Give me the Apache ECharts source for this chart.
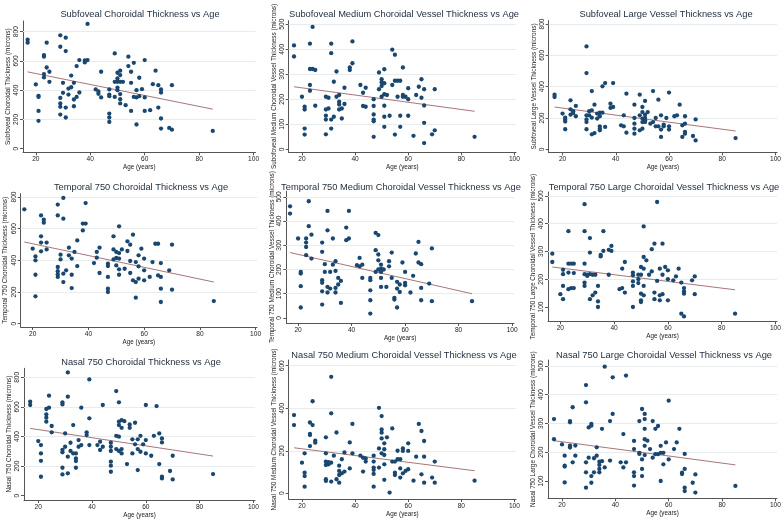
<!DOCTYPE html>
<html><head><meta charset="utf-8">
<script src="https://cdn.jsdelivr.net/npm/echarts@6/dist/echarts.min.js"></script>
<style>html,body{margin:0;padding:0;background:#fff}#c{width:784px;height:521px}</style>
</head><body><div id="c"></div>
<script>
// ---------- DATA ----------
const xTicks = [20, 40, 60, 80, 100];
const yTicks0to800 = [0, 200, 400, 600, 800];
const yTicks0to500 = [0, 100, 200, 300, 400, 500];
const yTicks100to500 = [100, 200, 300, 400, 500];
const yTicks0to600 = [0, 200, 400, 600];

const titles = [
  "Subfoveal Choroidal Thickness vs Age",
  "Subofoveal Medium Choroidal Vessel Thickness vs Age",
  "Subfoveal Large Vessel Thickness vs Age",
  "Temporal 750 Choroidal Thickness vs Age",
  "Temporal 750 Medium Choroidal Vessel Thickness vs Age",
  "Temporal 750 Large Choroidal Vessel Thickness vs Age",
  "Nasal 750 Choroidal Thickness vs Age",
  "Nasal 750 Medium Choroidal Vessel Thickness vs Age",
  "Nasal 750 Large Choroidal Vessel Thickness vs Age"
];
const yTitles = [
  "Subfoveal Choroidal Thickness (microns)",
  "Subofoveal Medium Choroidal Vessel Thickness (microns)",
  "Subfoveal Large Vessel Thickness (microns)",
  "Temporal 750 Choroidal Thickness (microns)",
  "Temporal 750 Medium Choroidal Vessel Thickness (microns)",
  "Temporal 750 Large Choroidal Vessel Thickness (microns)",
  "Nasal 750 Choroidal Thickness (microns)",
  "Nasal 750 Medium Choroidal Vessel Thickness (microns)",
  "Nasal 750 Large Choroidal Vessel Thickness (microns)"
];
const xTitle = "Age (years)";

const subfovealChoroidal = [[17,745],[17,725],[20,439],[21,361],[21,354],[21,258],[21,190],[23,640],[23,629],[23,510],[23,487],[24,725],[24,555],[25,526],[25,457],[29,775],[29,697],[29,347],[29,309],[29,286],[29,233],[30,450],[30,382],[31,759],[31,667],[31,281],[31,213],[32,411],[32,370],[33,500],[33,420],[34,450],[34,336],[34,290],[35,565],[35,354],[36,606],[36,384],[38,603],[38,590],[39,853],[39,606],[42,405],[43,391],[43,375],[44,526],[44,350],[47,405],[47,370],[47,359],[47,240],[47,213],[47,183],[49,651],[49,457],[49,354],[50,519],[50,480],[50,457],[50,418],[50,400],[51,533],[51,503],[51,457],[51,373],[51,338],[51,309],[52,457],[53,297],[54,629],[54,565],[55,526],[55,450],[55,258],[56,587],[56,354],[57,400],[57,350],[57,165],[58,485],[58,359],[59,407],[60,606],[60,350],[60,258],[62,263],[63,441],[64,533],[65,434],[65,281],[66,405],[66,384],[66,206],[66,137],[69,142],[70,434],[70,130],[85,121]];
const subfovealMedium = [[17,415],[17,371],[20,210],[21,170],[21,159],[21,83],[21,59],[23,422],[23,321],[23,257],[23,234],[24,489],[24,321],[25,317],[25,174],[29,210],[29,159],[29,134],[29,119],[29,60],[30,206],[30,163],[31,422],[31,384],[31,119],[31,83],[32,270],[32,130],[33,311],[33,210],[34,217],[34,190],[34,179],[34,159],[35,163],[35,123],[36,246],[36,181],[38,327],[38,317],[39,431],[39,344],[42,257],[43,226],[43,173],[44,246],[44,170],[47,200],[47,173],[47,139],[47,119],[47,112],[47,50],[49,307],[49,240],[50,280],[50,268],[50,253],[50,210],[51,320],[51,264],[51,220],[51,174],[51,130],[51,90],[52,217],[53,134],[54,398],[54,257],[55,378],[55,274],[55,59],[56,274],[56,210],[57,274],[57,134],[57,90],[58,327],[58,217],[58,210],[59,210],[60,244],[60,200],[60,134],[62,54],[63,217],[64,250],[65,280],[65,206],[66,240],[66,175],[66,106],[66,25],[69,60],[70,240],[70,76],[85,50]];
const subfovealLarge = [[17,349],[17,334],[20,228],[21,202],[21,189],[21,177],[21,128],[23,313],[23,255],[23,221],[24,243],[24,232],[25,277],[25,211],[29,657],[29,487],[29,217],[29,191],[29,174],[29,128],[30,243],[30,217],[31,372],[31,249],[31,202],[31,96],[32,285],[32,104],[33,228],[33,196],[34,234],[34,211],[34,147],[34,132],[34,121],[35,402],[35,234],[36,423],[36,143],[38,291],[38,264],[39,423],[39,270],[42,153],[43,217],[43,147],[44,355],[44,106],[47,285],[47,200],[47,164],[47,132],[47,100],[49,349],[49,217],[49,121],[50,270],[50,238],[50,196],[50,174],[50,132],[51,309],[51,221],[51,200],[51,185],[51,174],[52,238],[53,164],[54,372],[54,174],[55,200],[55,147],[56,317],[56,147],[57,217],[57,126],[57,79],[58,157],[58,147],[59,200],[60,362],[60,147],[60,126],[62,211],[63,217],[64,285],[65,153],[65,79],[66,211],[66,164],[66,111],[66,100],[69,85],[70,191],[70,57],[85,72]];
const temporalChoroidal = [[17,722],[20,474],[21,425],[21,400],[21,309],[21,173],[23,684],[23,552],[23,512],[23,457],[24,657],[24,638],[25,512],[25,469],[29,752],[29,684],[29,358],[29,331],[29,312],[29,295],[30,436],[30,406],[31,794],[31,663],[31,316],[31,263],[32,337],[33,480],[33,432],[34,411],[34,309],[34,225],[35,453],[36,526],[36,364],[38,632],[38,589],[39,762],[39,632],[42,383],[43,453],[43,417],[44,480],[44,320],[47,379],[47,364],[47,295],[47,221],[47,200],[49,552],[49,469],[49,406],[50,453],[50,415],[50,368],[51,615],[51,446],[51,411],[51,343],[51,309],[52,469],[53,347],[54,520],[54,459],[55,499],[55,396],[55,320],[56,562],[56,274],[57,389],[57,263],[57,164],[58,432],[58,362],[58,284],[59,474],[60,411],[60,337],[60,274],[62,295],[63,389],[64,505],[65,505],[65,305],[66,383],[66,295],[66,221],[66,137],[69,337],[70,499],[70,215],[85,143]];
const temporalMedium = [[17,461],[17,431],[20,328],[21,190],[21,183],[21,131],[21,43],[23,328],[23,311],[23,293],[23,259],[24,482],[24,379],[25,344],[25,245],[29,311],[29,273],[29,156],[29,145],[29,110],[29,55],[30,222],[30,190],[31,442],[31,362],[31,128],[31,105],[32,190],[32,121],[33,328],[33,220],[34,234],[34,194],[34,124],[34,105],[35,165],[35,138],[36,153],[36,62],[38,373],[38,321],[39,442],[39,328],[42,218],[43,248],[43,213],[44,220],[44,165],[47,165],[47,156],[47,114],[47,73],[47,18],[49,351],[49,280],[49,190],[50,342],[50,262],[50,238],[50,200],[51,220],[51,204],[51,190],[51,165],[51,128],[52,200],[53,128],[54,234],[54,213],[55,270],[55,165],[56,83],[56,76],[57,149],[57,121],[57,43],[58,138],[58,107],[59,229],[60,190],[60,145],[60,135],[62,105],[63,174],[64,266],[65,314],[65,229],[66,222],[66,124],[66,73],[69,142],[70,287],[70,69],[85,69]];
const temporalLarge = [[17,292],[17,262],[20,146],[21,234],[21,218],[21,176],[21,128],[23,373],[23,256],[23,224],[23,164],[24,256],[24,168],[25,256],[25,222],[25,168],[29,470],[29,373],[29,256],[29,218],[29,188],[29,176],[30,216],[30,212],[31,348],[31,296],[31,218],[31,128],[32,216],[32,142],[33,216],[33,152],[34,176],[34,120],[34,100],[35,288],[35,282],[36,373],[36,302],[38,306],[38,216],[39,320],[39,302],[42,164],[43,238],[43,168],[44,262],[44,152],[47,224],[47,214],[47,192],[47,176],[47,100],[49,216],[49,200],[49,186],[50,244],[50,216],[50,148],[50,124],[50,118],[51,390],[51,280],[51,238],[51,176],[51,142],[52,268],[53,216],[54,308],[54,228],[55,328],[55,152],[55,128],[56,478],[56,194],[57,238],[57,142],[57,124],[58,328],[58,216],[58,146],[59,244],[60,232],[60,200],[60,124],[62,196],[63,210],[64,238],[65,188],[65,76],[66,168],[66,156],[66,148],[66,66],[69,196],[70,210],[70,146],[85,76]];
const nasalChoroidal = [[17,635],[17,613],[20,369],[21,342],[21,286],[21,236],[21,128],[23,586],[23,550],[23,527],[23,500],[24,676],[24,595],[25,471],[25,428],[29,631],[29,617],[29,309],[29,293],[29,189],[29,144],[30,421],[30,331],[31,833],[31,669],[31,264],[31,151],[32,358],[32,302],[33,477],[33,286],[34,286],[34,252],[34,234],[34,189],[35,376],[35,331],[36,595],[36,342],[38,428],[38,410],[39,786],[39,523],[39,342],[42,342],[43,365],[43,309],[44,613],[44,331],[47,358],[47,331],[47,302],[47,230],[47,203],[47,162],[49,707],[49,405],[49,315],[50,631],[50,500],[50,477],[50,399],[50,302],[51,511],[51,459],[51,315],[51,286],[52,504],[53,214],[54,482],[54,459],[55,381],[55,286],[56,493],[56,347],[57,381],[57,315],[57,173],[58,405],[58,297],[59,347],[60,613],[60,376],[60,286],[62,270],[63,405],[64,606],[65,421],[65,214],[66,387],[66,360],[66,128],[66,117],[69,167],[70,270],[70,110],[85,146]];
const nasalMedium = [[17,368],[17,321],[20,144],[21,188],[21,97],[21,81],[21,31],[23,333],[23,279],[23,274],[23,222],[24,433],[24,321],[25,247],[25,238],[29,263],[29,188],[29,149],[29,133],[29,66],[29,58],[30,146],[30,136],[31,548],[31,376],[31,144],[31,55],[32,177],[33,286],[33,66],[34,130],[34,105],[34,86],[34,50],[35,160],[35,94],[36,192],[36,102],[38,239],[38,117],[39,326],[39,188],[42,177],[43,167],[43,102],[44,164],[44,149],[47,177],[47,149],[47,121],[47,110],[47,91],[47,31],[49,402],[49,211],[49,121],[50,363],[50,300],[50,285],[50,258],[50,188],[51,235],[51,207],[51,180],[51,136],[51,63],[52,263],[53,3],[54,305],[54,149],[55,149],[55,97],[55,86],[56,200],[56,160],[57,160],[57,117],[57,74],[58,211],[58,199],[58,94],[59,105],[60,235],[60,199],[60,113],[62,59],[63,172],[64,326],[65,293],[65,89],[66,246],[66,172],[66,50],[69,74],[70,149],[70,50],[85,59]];
const nasalLarge = [[17,315],[17,245],[20,227],[21,188],[21,153],[21,150],[21,95],[23,308],[23,304],[23,223],[23,216],[24,356],[24,165],[25,223],[25,188],[29,433],[29,373],[29,165],[29,130],[29,77],[30,286],[30,181],[31,298],[31,292],[31,117],[31,94],[32,179],[32,130],[33,217],[33,188],[34,167],[34,156],[34,142],[34,130],[35,281],[35,169],[36,497],[36,147],[38,308],[38,171],[39,460],[39,333],[42,165],[43,263],[43,147],[44,466],[44,165],[47,239],[47,211],[47,130],[47,117],[47,84],[49,308],[49,198],[49,194],[50,350],[50,175],[50,142],[50,117],[51,333],[51,315],[51,281],[51,245],[51,222],[51,190],[52,240],[53,211],[54,308],[54,181],[55,281],[55,193],[56,291],[56,193],[57,222],[57,198],[57,100],[58,198],[58,158],[59,234],[60,379],[60,175],[62,211],[63,234],[64,281],[65,129],[65,124],[66,194],[66,142],[66,77],[66,65],[69,94],[70,123],[70,60],[85,83]];

// fitted line end points
const fitSubfovealChoroidal = [[17,525],[85,270]];
const fitSubfovealMedium = [[17,250],[85,152]];
const fitSubfovealLarge = [[17,270],[85,117]];
const fitTemporalChoroidal = [[17,516],[85,263]];
const fitTemporalMedium = [[17,270],[85,100]];
const fitTemporalLarge = [[17,244],[85,162]];
const fitNasalChoroidal = [[17,455],[85,268]];
const fitNasalMedium = [[17,214],[85,106]];
const fitNasalLarge = [[17,240],[85,156]];

const scatterSets = [subfovealChoroidal, subfovealMedium, subfovealLarge, temporalChoroidal, temporalMedium, temporalLarge, nasalChoroidal, nasalMedium, nasalLarge];
const fitSets = [fitSubfovealChoroidal, fitSubfovealMedium, fitSubfovealLarge, fitTemporalChoroidal, fitTemporalMedium, fitTemporalLarge, fitNasalChoroidal, fitNasalMedium, fitNasalLarge];
const yTickSets = [yTicks0to800, yTicks0to500, yTicks0to800, yTicks0to800, yTicks0to500, yTicks100to500, yTicks0to800, yTicks0to600, yTicks100to500];

// ---------- LAYOUT (pixels / axis extents) ----------
const layout = [
  {l:23,   r:255.5, t:21,    b:152.3, xmin:15.3, xmax:100.7, ymin:-25, ymax:873, gap:12, tx:140, ty:14},
  {l:288.7,r:516,   t:20.7,  b:152.3, xmin:15,   xmax:100.6, ymin:-12, ymax:514, gap:8.5, tx:404, ty:14},
  {l:548.7,r:778,   t:20.7,  b:152.3, xmin:14.8, xmax:100.6, ymin:-19, ymax:821, gap:10, tx:666, ty:14},
  {l:20.7, r:257,   t:193.7, b:327,   xmin:15.7, xmax:100.5, ymin:-21, ymax:821, gap:12, tx:141, ty:187},
  {l:286.3,r:514,   t:191.3, b:323,   xmin:15.6, xmax:100.7, ymin:-21, ymax:523, gap:8.5, tx:401, ty:187},
  {l:548,  r:777,   t:192,   b:321.3, xmin:15.4, xmax:100.6, ymin:48.5,ymax:514, gap:11, tx:664, ty:187},
  {l:24,   r:255,   t:368.3, b:500,   xmin:14.7, xmax:100.6, ymin:-29, ymax:861, gap:10.5, tx:141, ty:362},
  {l:288.7,r:516,   t:360,   b:499,   xmin:15,   xmax:100.6, ymin:-27, ymax:627, gap:8.5, tx:404, ty:355},
  {l:548,  r:777,   t:360,   b:498.3, xmin:14.75,xmax:100.6, ymin:40,  ymax:520, gap:9, tx:664, ty:355}
];

const W = 784, H = 521;
const FONT = "'Liberation Sans', Arial, Helvetica, sans-serif";
const grid = [], xAxis = [], yAxis = [], series = [], title = [];
layout.forEach((p, i) => {
  grid.push({left: p.l, top: p.t, width: p.r - p.l, height: p.b - p.t, containLabel: false});
  title.push({text: titles[i], left: p.tx, top: p.ty, textAlign: 'center', textVerticalAlign: 'middle', padding: 0,
    textStyle: {fontFamily: FONT, fontSize: 9.3, fontWeight: 'normal', color: '#1e2b3c'}});
  xAxis.push({gridIndex: i, type: 'value', min: p.xmin, max: p.xmax,
    name: xTitle, nameLocation: 'middle', nameGap: 12,
    nameTextStyle: {fontFamily: FONT, fontSize: 6.3, color: '#222'},
    axisLine: {show: true, onZero: false, lineStyle: {color: '#555', width: 1}},
    axisTick: {show: true, length: 3, inside: false, customValues: xTicks, lineStyle: {color: '#555'}},
    axisLabel: {customValues: xTicks, fontFamily: FONT, fontSize: 6.6, color: '#222', margin: 3.5, showMinLabel: true, showMaxLabel: true},
    splitLine: {show: false}});
  yAxis.push({gridIndex: i, type: 'value', min: p.ymin, max: p.ymax,
    name: yTitles[i], nameLocation: 'middle', nameGap: p.gap,
    nameTextStyle: {fontFamily: FONT, fontSize: 6.4, color: '#222'},
    axisLine: {show: true, onZero: false, lineStyle: {color: '#555', width: 1}},
    axisTick: {show: true, length: 3, inside: false, customValues: yTickSets[i], lineStyle: {color: '#555'}},
    axisLabel: {customValues: yTickSets[i], rotate: 90, fontFamily: FONT, fontSize: 6.6, color: '#222', margin: 3.5},
    splitLine: {show: false}});
  // horizontal grid lines at every labelled y value except the lowest one
  const gridValues = yTickSets[i].slice(1).map(v => ({yAxis: v}));
  series.push({type: 'scatter', xAxisIndex: i, yAxisIndex: i, data: scatterSets[i], symbol: 'circle', symbolSize: 4.3,
    itemStyle: {color: '#1a476f', opacity: 1}, silent: true, z: 3});
  series.push({type: 'line', xAxisIndex: i, yAxisIndex: i, data: fitSets[i], symbol: 'none',
    lineStyle: {color: '#a8767a', width: 1}, silent: true, z: 2,
    markLine: {silent: true, symbol: ['none', 'none'], label: {show: false}, animation: false,
      lineStyle: {color: '#e8ecef', width: 1, type: 'solid'}, emphasis: {disabled: true}, z: 1, data: gridValues}});
});

const chart = echarts.init(document.getElementById('c'), null, {renderer: 'canvas', width: W, height: H});
chart.setOption({backgroundColor: '#ffffff', animation: false, title, grid, xAxis, yAxis, series});
</script>
</body></html>
